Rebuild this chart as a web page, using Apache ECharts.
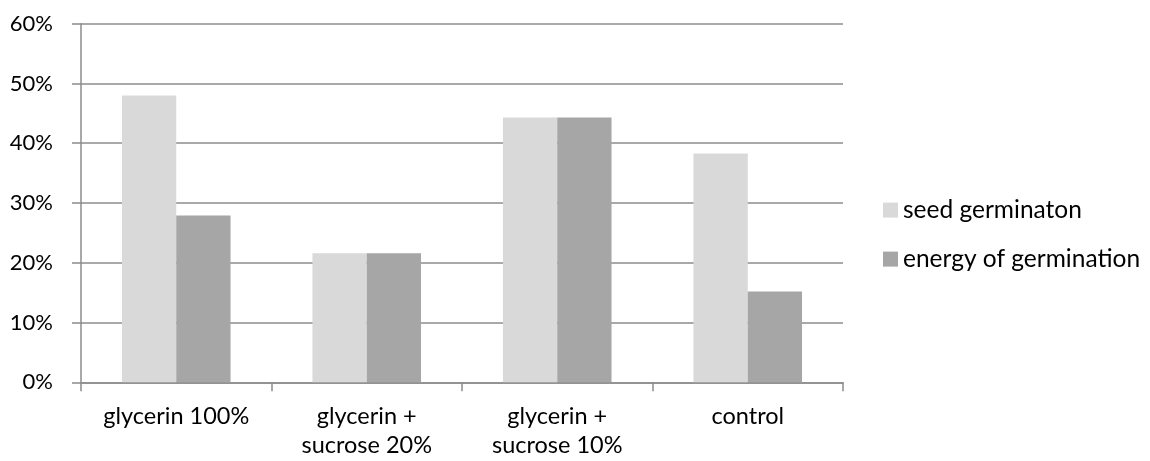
<!DOCTYPE html>
<html><head><meta charset="utf-8">
<script src="https://cdn.jsdelivr.net/npm/echarts@6/dist/echarts.min.js"></script>
<style>html,body{margin:0;padding:0;background:#fff}#c{width:1150px;height:461px}</style>
</head><body><div id="c"></div>
<script>
const categories = ['glycerin 100%', 'glycerin +\nsucrose 20%', 'glycerin +\nsucrose 10%', 'control'];
const seedGermination = [48, 21.6, 44.3, 38.3];
const energyGermination = [27.9, 21.6, 44.3, 15.2];
const seriesNames = ['seed germinaton', 'energy of germination'];
const FONT = 'Lato, "Open Sans", sans-serif';
const chart = echarts.init(document.getElementById('c'), null, {renderer: 'canvas'});
chart.setOption({
  animation: false,
  grid: {left: 81, right: 307, top: 23.7, bottom: 78.7, containLabel: false},
  legend: {
    orient: 'vertical', left: 883, top: 197.6, itemWidth: 15, itemHeight: 15, itemGap: 24,
    icon: 'rect', padding: 0,
    textStyle: {fontFamily: FONT, fontSize: 24.5, lineHeight: 24, color: '#000'},
    data: seriesNames
  },
  xAxis: {
    type: 'category', data: categories,
    axisLine: {lineStyle: {color: '#8c8c8c', width: 1.5}},
    axisTick: {show: true, length: 9, alignWithLabel: false, lineStyle: {color: '#8c8c8c', width: 1.5}},
    axisLabel: {fontFamily: FONT, fontSize: 23.5, color: '#000', margin: 20, lineHeight: 29, interval: 0}
  },
  yAxis: {
    type: 'value', min: 0, max: 60, interval: 10,
    axisLine: {show: true, lineStyle: {color: '#8c8c8c', width: 1.5}},
    axisTick: {show: true, length: 9, lineStyle: {color: '#8c8c8c', width: 1.5}},
    splitLine: {lineStyle: {color: '#8c8c8c', width: 1.5}},
    axisLabel: {fontFamily: FONT, fontSize: 22, color: '#000', margin: 28, formatter: v => v + '%'}
  },
  series: [
    {name: seriesNames[0], type: 'bar', data: seedGermination, itemStyle: {color: '#d9d9d9'}, barGap: '0%', barCategoryGap: '43%'},
    {name: seriesNames[1], type: 'bar', data: energyGermination, itemStyle: {color: '#a6a6a6'}, barGap: '0%', barCategoryGap: '43%'}
  ]
});
</script></body></html>
